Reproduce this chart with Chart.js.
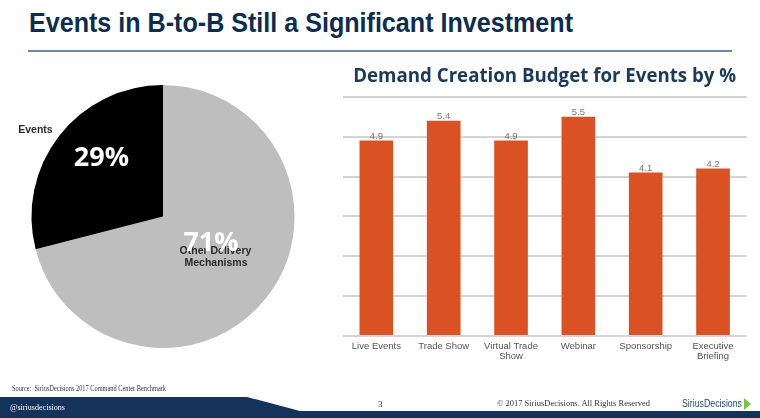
<!DOCTYPE html>
<html>
<head>
<meta charset="utf-8">
<script src="https://cdn.jsdelivr.net/npm/chart.js@4/dist/chart.umd.min.js"></script>
<style>
  html,body{margin:0;padding:0;background:#fff;}
  body{width:760px;height:418px;position:relative;overflow:hidden;font-family:"Liberation Sans",Arial,sans-serif;}
  .abs{position:absolute;white-space:nowrap;transform-origin:0 50%;}
  #title{left:29px;top:8px;font-size:28px;font-weight:bold;color:#0d2d50;line-height:30px;}
  #rule{position:absolute;left:28px;top:50px;width:704px;height:2px;background:#6a88a0;}
  #band{position:absolute;left:0;top:0;width:760px;height:418px;}
  .serif{font-family:"Liberation Serif","Times New Roman",serif;}
  #pieWrap{position:absolute;left:0;top:70px;width:326px;height:293px;}
  #barWrap{position:absolute;left:330px;top:58px;width:430px;height:320px;}
</style>
</head>
<body>
<div id="title" class="abs" data-w="544">Events in B-to-B Still a Significant Investment</div>
<div id="rule"></div>

<div id="pieWrap"><canvas id="pie"></canvas></div>
<div id="barWrap"><canvas id="bar"></canvas></div>

<svg id="band" width="760" height="418"><polygon points="0,397 247,397 300,411 760,411 760,418 0,418" fill="#15325a"/></svg>
<div class="abs serif" data-w="154" style="left:12px;top:382px;font-size:9px;line-height:12px;color:#333;">Source:&nbsp; SiriusDecisions 2017 Command Center Benchmark</div>
<div class="abs serif" data-w="55" style="left:10px;top:401px;font-size:9px;line-height:12px;color:#fff;">@siriusdecisions</div>
<div class="abs serif" style="left:378px;top:398px;font-size:9px;line-height:12px;color:#333;">3</div>
<div class="abs serif" data-w="153" style="left:497px;top:397px;font-size:9px;line-height:12px;color:#333;">© 2017 SiriusDecisions. All Rights Reserved</div>
<div class="abs" data-w="60" style="left:682px;top:398px;font-size:10px;line-height:12px;color:#1d4a78;">SiriusDecisions</div>
<svg style="position:absolute;left:744px;top:398px" width="8" height="12"><polygon points="0,0 7,6 0,12" fill="#7dc242"/></svg>

<script>
// ---- Data ----
const pieLabels = ["Other Delivery Mechanisms", "Events"];
const pieValues = [71, 29];
const pieColors = ["#bebebe", "#000000"];

const barCategories = [["Live Events"], ["Trade Show"], ["Virtual Trade", "Show"], ["Webinar"], ["Sponsorship"], ["Executive", "Briefing"]];
const barValues = [4.9, 5.4, 4.9, 5.5, 4.1, 4.2];
const barTitle = "Demand Creation Budget for Events by %";

// fit widths of DOM text
document.querySelectorAll('[data-w]').forEach(el => {
  const target = parseFloat(el.dataset.w);
  const w = el.getBoundingClientRect().width;
  if (w > 0) el.style.transform = 'scaleX(' + (target / w) + ')';
});

// Pie label plugin: positions relative to arc centre as fractions of radius
const pieText = {
  id: 'pieText',
  afterDatasetsDraw(chart) {
    const arc = chart.getDatasetMeta(0).data[0];
    const cx = arc.x, cy = arc.y, r = arc.outerRadius;
    const ctx = chart.ctx;
    ctx.save();
    ctx.textAlign = 'center';
    ctx.textBaseline = 'middle';
    ctx.fillStyle = '#2a2a2a';
    ctx.font = 'bold 10.5px "Liberation Sans", Arial, sans-serif';
    ctx.fillText(pieLabels[1], cx - 0.97 * r, cy - 0.658 * r);
    const other = ["Other Delivery", "Mechanisms"];
    ctx.fillText(other[0], cx + 0.399 * r, cy + 0.262 * r);
    ctx.fillText(other[1], cx + 0.403 * r, cy + 0.354 * r);
    ctx.fillStyle = '#ffffff';
    ctx.font = 'bold 27px "Open Sans", "Noto Sans", sans-serif';
    ctx.fillText(pieValues[1] + '%', cx - 0.468 * r, cy - 0.441 * r);
    ctx.fillText(pieValues[0] + '%', cx + 0.365 * r, cy + 0.2015 * r);
    ctx.restore();
  }
};

new Chart(document.getElementById('pie'), {
  type: 'pie',
  data: { labels: pieLabels, datasets: [{ data: pieValues, backgroundColor: pieColors, borderWidth: 0, hoverOffset: 0 }] },
  options: {
    responsive: true, maintainAspectRatio: false, animation: false,
    layout: { padding: { top: 15, bottom: 15, left: 31.5, right: 31.5 } },
    plugins: { legend: { display: false }, tooltip: { enabled: false } }
  },
  plugins: [pieText]
});

const barValueLabels = {
  id: 'barValueLabels',
  afterDatasetsDraw(chart) {
    const ctx = chart.ctx;
    const meta = chart.getDatasetMeta(0);
    ctx.save();
    ctx.fillStyle = '#777777';
    ctx.font = '9.5px "Liberation Sans", Arial, sans-serif';
    ctx.textAlign = 'center';
    ctx.textBaseline = 'alphabetic';
    meta.data.forEach((bar, i) => {
      ctx.fillText(barValues[i].toFixed(1), bar.x, bar.y - 2);
    });
    ctx.restore();
  }
};

new Chart(document.getElementById('bar'), {
  type: 'bar',
  data: { labels: barCategories, datasets: [{ data: barValues, backgroundColor: '#da5224', borderWidth: 0, barPercentage: 0.5, categoryPercentage: 1 }] },
  options: {
    responsive: true, maintainAspectRatio: false, animation: false,
    layout: { padding: { top: 0, bottom: 11, left: 12.7, right: 13.3 } },
    plugins: {
      legend: { display: false }, tooltip: { enabled: false },
      title: { display: true, text: barTitle, color: '#1b3a5c', font: { family: '"Open Sans", "Noto Sans", sans-serif', size: 18.7, weight: 'bold' }, padding: { top: 7.5, bottom: 8.8 } }
    },
    scales: {
      x: {
        grid: { display: false, drawTicks: false }, border: { display: false },
        ticks: { color: '#555555', font: { family: '"Liberation Sans", Arial, sans-serif', size: 9.5, lineHeight: 1.1 }, padding: 5, maxRotation: 0, autoSkip: false }
      },
      y: {
        min: 0, max: 6,
        ticks: { display: false, stepSize: 1 },
        border: { display: false },
        grid: { color: '#d4d4d4', lineWidth: 2, drawTicks: false }
      }
    }
  },
  plugins: [barValueLabels]
});
</script>
</body>
</html>
